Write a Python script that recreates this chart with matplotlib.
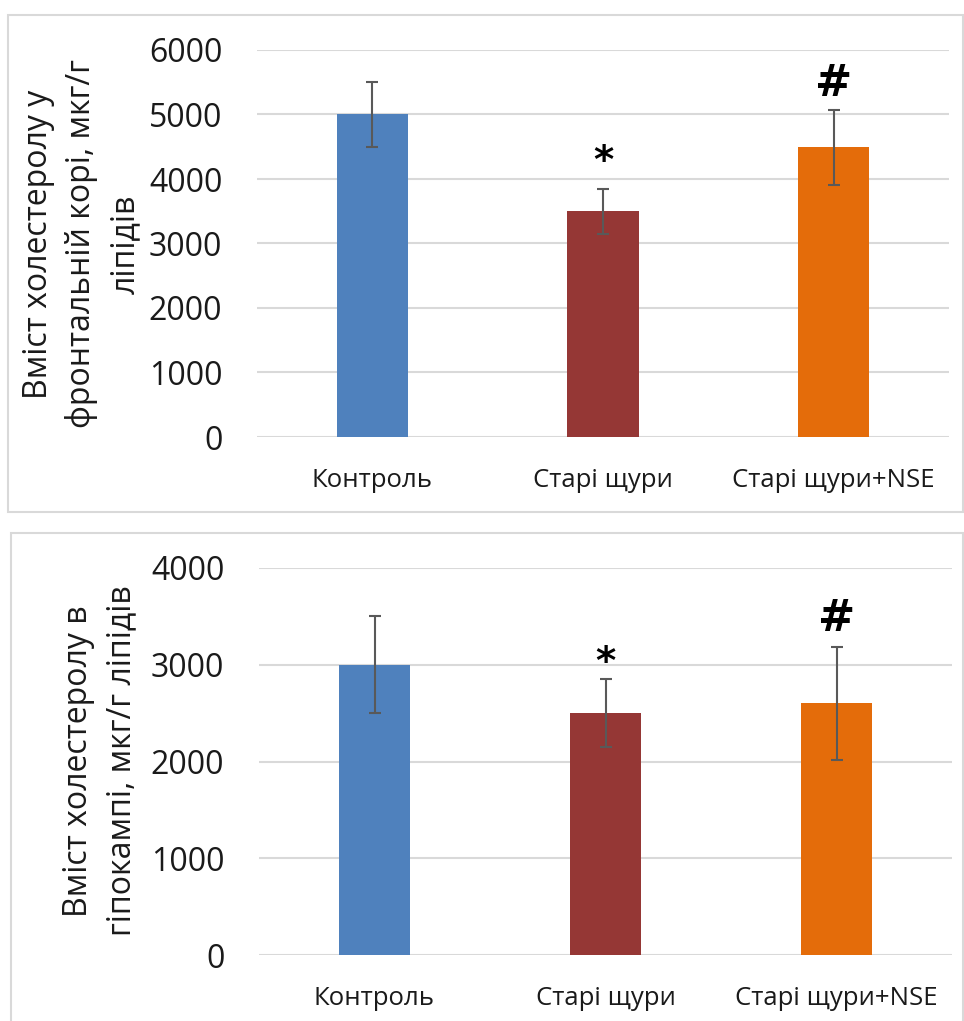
import numpy as np
import matplotlib
matplotlib.use("Agg")
import matplotlib.pyplot as plt
from matplotlib.patches import Rectangle

plt.rcParams['font.family'] = ['Open Sans', 'DejaVu Sans']

groups = ["Контроль", "Старі щури", "Старі щури+NSE"]
colors = ["#4F81BD", "#953735", "#E46C0A"]

# frontal cortex
cortex_mean = [5000, 3500, 4490]
cortex_err = [500, 350, 580]
cortex_marks = ["", "*", "#"]

# hippocampus
hippo_mean = [3000, 2500, 2600]
hippo_err = [500, 350, 585]
hippo_marks = ["", "*", "#"]

fig = plt.figure(figsize=(9.64, 10.21), dpi=100)

# chart frames like in excel
fig.patches.append(Rectangle((8/964, 1-512/1021), 955/964, 497/1021, transform=fig.transFigure,
                             fill=False, edgecolor="#D9D9D9", linewidth=1.5))
fig.patches.append(Rectangle((11/964, 1-1030/1021), 952/964, 497/1021, transform=fig.transFigure,
                             fill=False, edgecolor="#D9D9D9", linewidth=1.5))

ax1 = fig.add_axes([257/964, 1-437/1021, 692/964, 387/1021])
ax2 = fig.add_axes([259/964, 1-955/1021, 693/964, 387/1021])

panels = [
    (ax1, cortex_mean, cortex_err, cortex_marks, 6000, [27, 26]),
    (ax2, hippo_mean, hippo_err, hippo_marks, 4000, [16, 28]),
]

for ax, mean, err, marks, top, offs in panels:
    x = np.arange(len(groups))
    ax.bar(x, mean, width=0.31, color=colors, zorder=2)
    ax.errorbar(x, mean, yerr=err, fmt="none", ecolor="#595959", elinewidth=1.5,
                capsize=4, capthick=1.5, zorder=3)
    ax.set_xlim(-0.5, 2.5)
    ax.set_ylim(0, top)
    ax.set_yticks(np.arange(0, top + 1, 1000))
    ax.set_xticks(x)
    ax.set_xticklabels(groups)
    ax.yaxis.grid(True, color="#D9D9D9", linewidth=1.5, zorder=0)
    ax.set_axisbelow(True)
    for s in ax.spines.values():
        s.set_visible(False)
    ax.tick_params(axis="y", length=0, pad=25, labelsize=23, labelcolor="#1a1a1a")
    ax.tick_params(axis="x", length=0, pad=22, labelsize=18.5, labelcolor="#1a1a1a")
    k = 0
    for i, m in enumerate(marks):
        if m:
            fs = 32 if m == "#" else 28
            ax.annotate(m, (x[i], mean[i] + err[i]), xytext=(0, offs[k] * 0.72),
                        textcoords="offset points", ha="center", va="center",
                        fontsize=fs, fontweight="bold", family="DejaVu Sans")
            k += 1

fig.text(82/964, 1-244/1021, "Вміст холестеролу у\nфронтальній корі, мкг/г\nліпідів",
         rotation=90, ha="center", va="center", multialignment="center",
         fontsize=23, linespacing=1.4, color="#1a1a1a")
fig.text(100/964, 1-761/1021, "Вміст холестеролу в\nгіпокампі, мкг/г ліпідів",
         rotation=90, ha="center", va="center", multialignment="center",
         fontsize=23, linespacing=1.4, color="#1a1a1a")

fig.savefig("out.png", dpi=100)
